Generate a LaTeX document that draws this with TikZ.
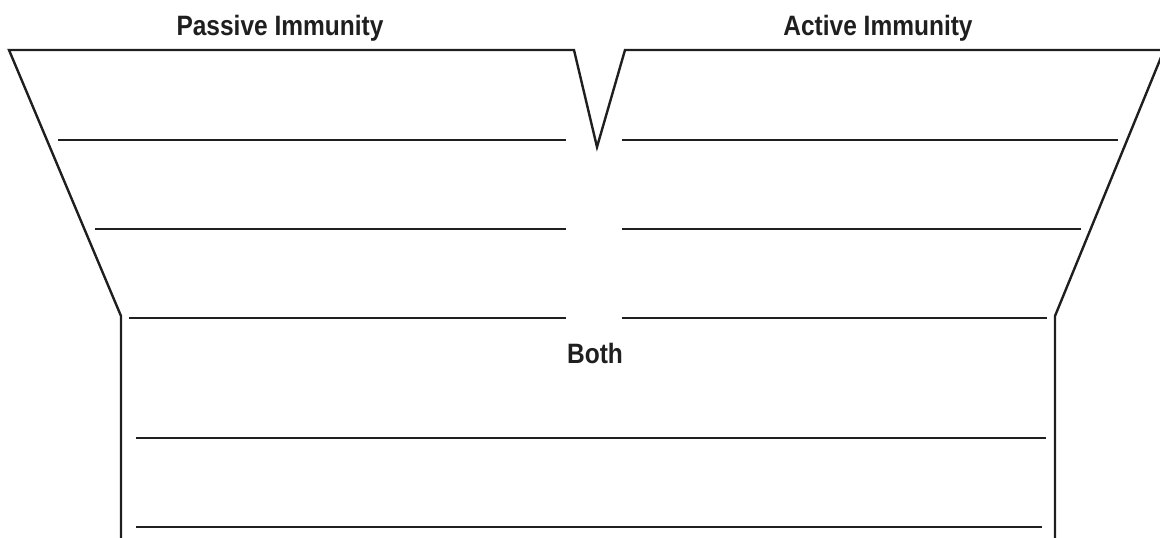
\documentclass[tikz,border=0pt]{standalone}
\usepackage{fontspec}
\newfontfamily\headfont[FakeStretch=0.875]{Liberation Sans Bold}
\begin{document}
\begin{tikzpicture}[x=1pt,y=-1pt,
  outline/.style={line width=2.4pt,color=black!88,line join=miter},
  rule/.style={line width=2.3pt,color=black!88},
  head/.style={font=\headfont\fontsize{28}{30}\selectfont,text=black!88,inner sep=0pt,anchor=base}]
\useasboundingbox (0,0) rectangle (1160,538);
\clip (0,0) rectangle (1160,538);
% outline coordinates
\coordinate (tl) at (9,50);
\coordinate (vl) at (574,50);
\coordinate (vb) at (597,147);
\coordinate (vr) at (625,50);
\coordinate (tr) at (1164,50);
\coordinate (cr) at (1055,316);
\coordinate (br) at (1055,545);
\coordinate (cl) at (121,316);
\coordinate (bl) at (121,545);
\draw[outline] (bl) -- (cl) -- (tl) -- (vl) -- (vb) -- (vr) -- (tr) -- (cr) -- (br);
% headings
\node[head] (passive) at (280,35) {Passive Immunity};
\node[head] (active) at (878,35) {Active Immunity};
\node[head] (both) at (595,363) {Both};
% writing lines
\coordinate (l1a) at (58,140);  \coordinate (l1b) at (566,140);
\coordinate (l2a) at (95,229);  \coordinate (l2b) at (566,229);
\coordinate (l3a) at (129,318); \coordinate (l3b) at (566,318);
\coordinate (r1a) at (622,140); \coordinate (r1b) at (1118,140);
\coordinate (r2a) at (622,229); \coordinate (r2b) at (1081,229);
\coordinate (r3a) at (622,318); \coordinate (r3b) at (1047,318);
\coordinate (b1a) at (136,438); \coordinate (b1b) at (1046,438);
\coordinate (b2a) at (136,527); \coordinate (b2b) at (1042,527);
\foreach \p in {l1,l2,l3,r1,r2,r3,b1,b2}
  \draw[rule] (\p a) -- (\p b);
\end{tikzpicture}
\end{document}
